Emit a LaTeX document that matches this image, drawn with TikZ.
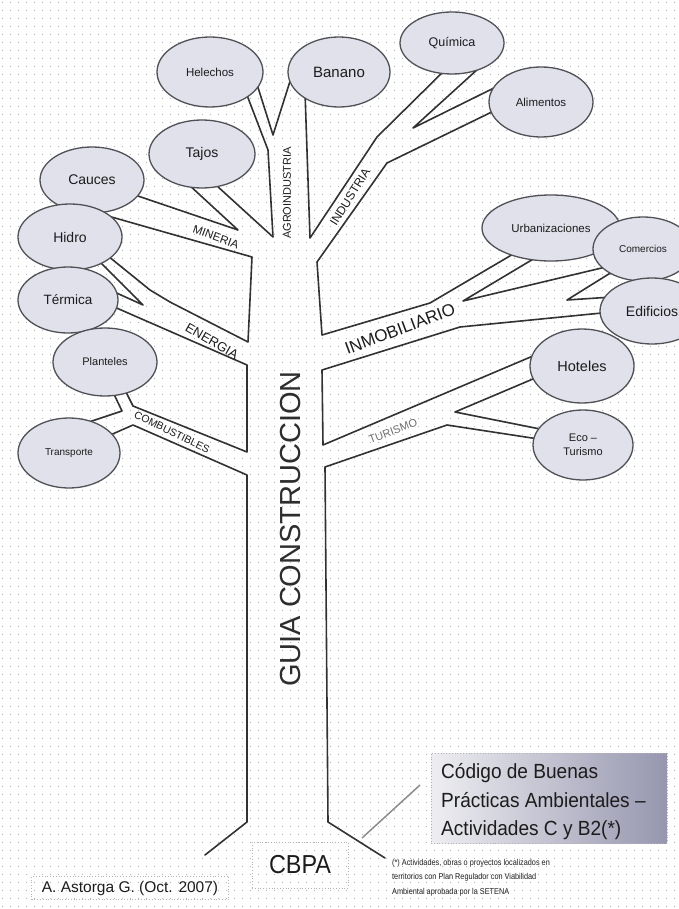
\documentclass[tikz,border=0pt]{standalone}
\usepackage{fontspec}
\usepackage{graphicx}
\setmainfont{Liberation Sans}
\usetikzlibrary{shapes.geometric,patterns.meta}
\definecolor{edge}{RGB}{50,50,50}
\definecolor{leafline}{RGB}{80,80,86}
\definecolor{leaffill}{RGB}{224,225,234}
\definecolor{dotc}{RGB}{170,170,182}
\definecolor{boxL}{RGB}{238,238,242}
\definecolor{boxM}{RGB}{222,222,230}
\definecolor{boxR}{RGB}{150,150,175}
\definecolor{txt}{RGB}{28,28,28}
\definecolor{trunkc}{RGB}{45,45,45}
\definecolor{turc}{RGB}{110,110,110}
\definecolor{framec}{RGB}{185,175,182}
\definecolor{ptrc}{RGB}{140,140,140}
\newcommand\fsz[1]{\fontsize{#1}{#1}\selectfont}
\tikzdeclarepattern{
  name=bgdots,
  type=uncolored,
  bounding box={(0pt,0pt) and (8pt,8pt)},
  tile size={(8pt,8pt)},
  code={\fill (4pt,4pt) circle [radius=0.6pt];}
}
\begin{document}
\begin{tikzpicture}[x=1pt,y=-1pt,
  br/.style={draw=edge,line width=1.6pt,line join=round,line cap=round},
  leaf/.style={ellipse,draw=leafline,fill=leaffill,line width=1.3pt,inner sep=0pt,text=txt},
  lf/.style 2 args={leaf,minimum width=#1pt,minimum height=#2pt},
  blab/.style={inner sep=0pt,text=txt},
  fbox/.style={draw=framec,dotted,line width=0.8pt,inner sep=0pt,text=txt}]
\clip (0,0) rectangle (679,909);
\fill[white] (0,0) rectangle (679,909);
\fill[pattern=bgdots,pattern color=dotc] (0,0) rectangle (679,909);

% ---- tree outline ----
\draw[br] (205,855) -- (247,822) -- (247,475) -- (133,425) -- (108,436);
\draw[br] (80,425) -- (122,411) -- (112,390);
\draw[br] (125,390) -- (133,406) -- (247,452) -- (247,365) -- (112,306);
\draw[br] (110,290) -- (143,305) -- (100,262);
\draw[br] (108,256) -- (150,290) -- (170,302) -- (248,342) -- (252,257) -- (108,216);
\draw[br] (135,195) -- (238,230) -- (175,172);
\draw[br] (205,175) -- (273,237) -- (268,150) -- (245,90);
\draw[br] (255,78) -- (273,135) -- (292,75);
\draw[br] (305,92) -- (310,238) -- (377,137) -- (450,65);
\draw[br] (490,58) -- (413,128) -- (500,85);
\draw[br] (500,108) -- (387,163) -- (317,262) -- (322,335) -- (430,303) -- (520,250);
\draw[br] (540,255) -- (463,301) -- (610,266);
\draw[br] (612,272) -- (567,300) -- (612,297);
\draw[br] (612,312) -- (460,327) -- (322,370) -- (323,445) -- (540,353);
\draw[br] (540,376) -- (455,412) -- (545,430);
\draw[br] (545,440) -- (447,425) -- (325,467) -- (328,822) -- (385,858);

% ---- leaves ----
\node[lf={104}{66},font=\fsz{14}] (cauces) at (92,180) {Cauces};
\node[lf={104}{66},font=\fsz{14}] (hidro) at (70,237) {Hidro};
\node[lf={100}{66},font=\fsz{13.5}] (termica) at (68,300) {Térmica};
\node[lf={104}{68},font=\fsz{11}] (planteles) at (105,362) {Planteles};
\node[lf={102}{70},font=\fsz{10}] (transporte) at (69,453) {Transporte};
\node[lf={106}{68},font=\fsz{14}] (tajos) at (202,154) {Tajos};
\node[lf={106}{70},font=\fsz{11.5}] (helechos) at (210,72) {Helechos};
\node[lf={102}{70},font=\fsz{15}] (banano) at (339,72) {Banano};
\node[lf={104}{62},font=\fsz{12.5}] (quimica) at (452,43) {Química};
\node[lf={104}{70},font=\fsz{11.5}] (alimentos) at (541,102) {Alimentos};
\node[lf={138}{66},font=\fsz{11.5}] (urban) at (551,228) {Urbanizaciones};
\node[lf={100}{64},font=\fsz{10}] (comercios) at (643,249) {Comercios};
\node[lf={104}{66},font=\fsz{14}] (edificios) at (652,311) {Edificios};
\node[lf={104}{74},font=\fsz{14.5}] (hoteles) at (582,366) {Hoteles};
\node[lf={100}{70},font=\fontsize{11}{14}\selectfont,align=center] (eco) at (583,445) {Eco –\\Turismo};

% ---- branch labels ----
\node[blab,rotate=-20,font=\fsz{11.5}] (lmin) at (216,237) {MINERIA};
\node[blab,rotate=-30,font=\fsz{13}] (lene) at (212,341) {ENERGIA};
\node[blab,rotate=-26,font=\fsz{10.5}] (lcom) at (172,432) {COMBUSTIBLES};
\node[blab,rotate=90,font=\fsz{11}] (lagro) at (287,193) {AGROINDUSTRIA};
\node[blab,rotate=58,font=\fsz{12}] (lind) at (350,197) {INDUSTRIA};
\node[blab,rotate=20.5,font=\fsz{17}] (linm) at (400,329) {INMOBILIARIO};
\node[blab,rotate=20.5,font=\fsz{11},text=turc] (ltur) at (393,431) {TURISMO};
\node[blab,rotate=90,font=\fsz{29},text=trunkc] (guia) at (291,529) {GUIA CONSTRUCCION};

% ---- bottom ----
\node[fbox,minimum width=236pt,minimum height=90pt,left color=boxL,middle color=boxM,right color=boxR,draw=framec] (code) at (549,798) {};
\node[blab,anchor=west,align=left,font=\fontsize{20.5}{28.5}\selectfont] (codetxt) at (441,802)
  {\scalebox{0.93}[1]{Código de Buenas}\\\scalebox{0.93}[1]{Prácticas Ambientales –}\\\scalebox{0.93}[1]{Actividades C y B2(*)}};
\coordinate (ptrA) at (420,785);
\coordinate (ptrB) at (362,838);
\draw[draw=ptrc,line width=1.5pt] (ptrA) -- (ptrB);
\node[fbox,minimum width=96pt,minimum height=46pt,font=\fsz{26}] (cbpa) at (300,865) {\scalebox{0.9}[1]{CBPA}};
\node[fbox,minimum width=197pt,minimum height=23pt,font=\fsz{15.5}] (author) at (130,888) {A. Astorga G. (Oct. 2007)};
\node[blab,anchor=north west,align=left,font=\fontsize{8.5}{14.5}\selectfont] (note) at (392,859)
  {\scalebox{0.86}[1]{(*) Actividades, obras o proyectos localizados en}\\\scalebox{0.86}[1]{territorios con Plan Regulador con Viabilidad}\\\scalebox{0.86}[1]{Ambiental aprobada por la SETENA}};
\end{tikzpicture}
\end{document}
